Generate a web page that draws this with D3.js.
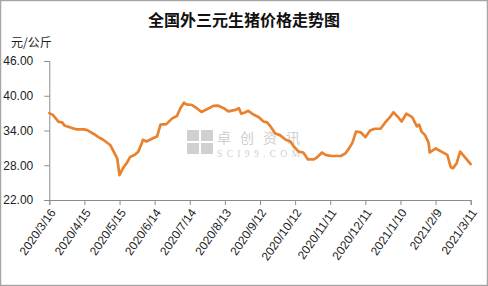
<!DOCTYPE html>
<html><head><meta charset="utf-8">
<script src="https://cdn.jsdelivr.net/npm/d3@7"></script>
<style>html,body{margin:0;padding:0;background:#fff;}svg{display:block;}</style>
</head><body>
<svg id="c" width="488" height="286"></svg>
<script>
const title = "全国外三元生猪价格走势图";
const unitLabel = "元/公斤";
const yTicks = [22, 28, 34, 40, 46];
const xTickLabels = ["2020/3/16","2020/4/15","2020/5/15","2020/6/14","2020/7/14","2020/8/13","2020/9/12","2020/10/12","2020/11/11","2020/12/11","2021/1/10","2021/2/9","2021/3/11"];
const dates = ["2020/3/16","2020/3/19","2020/3/24","2020/3/27","2020/3/29","2020/4/5","2020/4/8","2020/4/14","2020/4/17","2020/4/23","2020/4/27","2020/5/1","2020/5/7","2020/5/10","2020/5/13","2020/5/15","2020/5/18","2020/5/21","2020/5/24","2020/5/28","2020/5/31","2020/6/3","2020/6/4","2020/6/7","2020/6/13","2020/6/16","2020/6/19","2020/6/24","2020/6/29","2020/7/3","2020/7/6","2020/7/9","2020/7/11","2020/7/16","2020/7/20","2020/7/24","2020/7/29","2020/8/3","2020/8/7","2020/8/12","2020/8/16","2020/8/22","2020/8/25","2020/8/27","2020/8/30","2020/9/2","2020/9/6","2020/9/11","2020/9/15","2020/9/18","2020/9/21","2020/9/25","2020/9/29","2020/10/4","2020/10/8","2020/10/11","2020/10/15","2020/10/19","2020/10/23","2020/10/28","2020/10/31","2020/11/2","2020/11/4","2020/11/7","2020/11/12","2020/11/20","2020/11/24","2020/11/27","2020/11/30","2020/12/3","2020/12/7","2020/12/11","2020/12/15","2020/12/19","2020/12/24","2020/12/28","2021/1/1","2021/1/4","2021/1/8","2021/1/11","2021/1/15","2021/1/20","2021/1/24","2021/1/26","2021/1/28","2021/1/31","2021/2/3","2021/2/4","2021/2/9","2021/2/14","2021/2/19","2021/2/22","2021/2/24","2021/2/27","2021/3/2","2021/3/6","2021/3/11"];
const prices = [37.0,36.7,35.5,35.4,34.85,34.4,34.2,34.2,34.1,33.4,32.85,32.4,31.5,30.35,29.2,26.3,27.5,28.35,29.4,29.8,30.35,31.8,32.4,32.1,32.7,32.95,35.0,35.1,36.1,36.5,37.85,38.8,38.5,38.4,37.85,37.2,37.7,38.25,38.3,37.85,37.3,37.55,37.85,36.9,37.1,37.4,36.8,36.3,35.55,35.4,34.7,33.5,33.2,32.4,32.1,31.2,30.35,30.2,29.0,29.0,29.4,29.8,30.2,29.8,29.6,29.6,30.05,30.9,31.9,33.8,33.7,32.85,34.0,34.3,34.3,35.4,36.3,37.15,36.3,35.55,36.9,36.3,34.7,35.0,33.8,33.2,31.9,30.2,30.9,30.35,29.8,27.65,27.5,28.35,30.35,29.4,28.2];

const parse = d3.timeParse("%Y/%m/%d");
const data = dates.map((d, i) => ({date: parse(d), v: prices[i]}));
const tickDates = xTickLabels.map(parse);

const svg = d3.select("#c");
const W = 488, H = 286;
const mLeft = 49.3, mRight = 470.7, mTop = 61, mBottom = 200;

svg.append("rect").attr("x", 0.5).attr("y", 0.5).attr("width", W - 1).attr("height", H - 1)
  .attr("fill", "#fff").attr("stroke", "#a6a6a6").attr("stroke-width", 1.5);

const x = d3.scaleTime().domain([tickDates[0], tickDates[tickDates.length - 1]]).range([mLeft, mRight]);
const y = d3.scaleLinear().domain([22, 46]).range([mBottom, mTop]);

// watermark
const wm = svg.append("g").attr("fill", "#d0d0d0");
const sq = [[0,0],[14,0],[0,13],[14,13]];
sq.forEach(([dx, dy]) => wm.append("rect").attr("x", 187 + dx).attr("y", 130 + dy).attr("width", 12).attr("height", 11));
svg.append("text").attr("x", 217).attr("y", 143).attr("font-family", "Noto Sans CJK SC").attr("font-size", 14)
  .attr("fill", "#cfcfcf").attr("textLength", 83).text("卓创资讯");
svg.append("text").attr("x", 217).attr("y", 157).attr("font-family", "Liberation Serif").attr("font-size", 9.5)
  .attr("fill", "#cfcfcf").attr("textLength", 83).text("SCI99.COM");

// y axis
const yAxis = d3.axisLeft(y).tickValues(yTicks).tickSize(5).tickFormat(d3.format(".2f"));
const gy = svg.append("g").attr("transform", `translate(${mLeft},0)`).call(yAxis);
gy.select(".domain").attr("stroke", "#8c8c8c");
gy.selectAll(".tick line").attr("stroke", "#8c8c8c");
gy.selectAll(".tick text").attr("x", -16).attr("font-family", "Liberation Sans, Arial").attr("font-size", 12).attr("fill", "#222");

// x axis
const xAxis = d3.axisBottom(x).tickValues(tickDates).tickSize(5).tickFormat((d, i) => xTickLabels[i]);
const gx = svg.append("g").attr("transform", `translate(0,${mBottom})`).call(xAxis);
gx.select(".domain").attr("stroke", "#8c8c8c");
gx.selectAll(".tick line").attr("stroke", "#8c8c8c");
gx.selectAll(".tick text")
  .attr("font-family", "Liberation Sans, Arial").attr("font-size", 12).attr("fill", "#222")
  .attr("text-anchor", "end").attr("dy", "0.35em").attr("x", 0).attr("y", 0)
  .attr("transform", "translate(3,10) rotate(-55)");

// line
const line = d3.line().x(d => x(d.date)).y(d => y(d.v));
svg.append("path").datum(data).attr("d", line).attr("fill", "none")
  .attr("stroke", "#E8822F").attr("stroke-width", 2.7).attr("stroke-linejoin", "round").attr("stroke-linecap", "round");

// title
svg.append("text").attr("x", 244).attr("y", 26).attr("text-anchor", "middle")
  .attr("font-family", "Noto Sans CJK SC").attr("font-weight", "bold").attr("font-size", 16).attr("fill", "#111").text(title);
svg.append("text").attr("x", 11).attr("y", 47)
  .attr("font-family", "Noto Sans CJK SC").attr("font-size", 12).attr("fill", "#222").text(unitLabel);
</script>
</body></html>
